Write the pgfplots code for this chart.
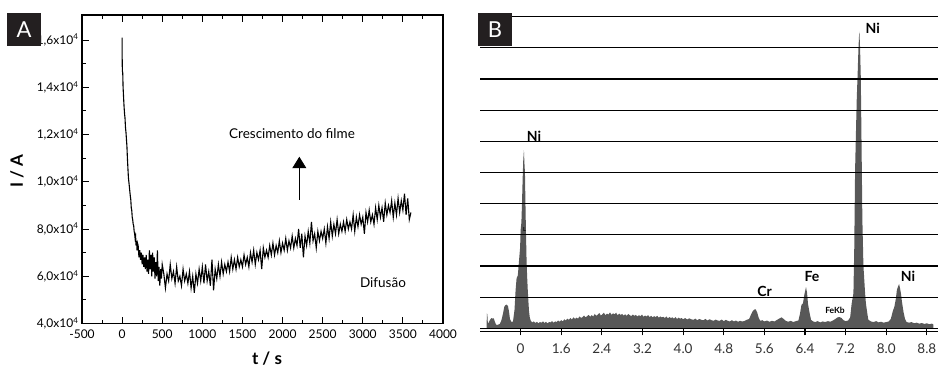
\documentclass[border=0pt]{standalone}
\usepackage{fontspec}
\setmainfont{Lato}
\usepackage{pgfplots}
\pgfplotsset{compat=1.18}
\usetikzlibrary{arrows.meta}
\definecolor{spec}{RGB}{88,88,88}
\definecolor{boxc}{RGB}{35,31,32}
\definecolor{tickgray}{RGB}{50,50,50}
\begin{document}
\begin{tikzpicture}
\useasboundingbox (0pt,0pt) rectangle (939pt,367pt);
% ---------------- Panel A ----------------
\begin{axis}[
  at={(82pt,43.5pt)}, anchor=south west, scale only axis,
  width=361pt, height=308.5pt,
  xmin=-500, xmax=4000, ymin=4, ymax=17.06,
  xtick={-500,0,500,1000,1500,2000,2500,3000,3500,4000},
  minor x tick num=1,
  ytick={4,6,8,10,12,14,16}, minor y tick num=1,
  yticklabels={{4,0x10\textsuperscript{4}},{6,0x10\textsuperscript{4}},{8,0x10\textsuperscript{4}},{1,0x10\textsuperscript{4}},{1,2x10\textsuperscript{4}},{1,4x10\textsuperscript{4}},{1,6x10\textsuperscript{4}}},
  ytick pos=left,
  tick align=inside,
  major tick length=7pt, minor tick length=4pt,
  axis line style={line width=1.6pt},
  tick style={line width=1pt, black},
  /pgf/number format/assume math mode=true,
  /pgf/number format/1000 sep={},
  ticklabel style={font=\fontsize{12}{14}\selectfont},
  xticklabel style={yshift=-3pt},
  clip=false,
]
\addplot[black, line width=1.1pt] coordinates {
(0,16.1) (1,15.2) (3,14.7) (8,14.6) (12,14.0) (18,13.6) (24,13.2) (30,12.9) (36,12.7) (42,12.3) (48,12.1) (54,11.8) (60,11.5) (66,11.0) (72,10.6) (78,10.2) (84,10.0) (90,9.8) (96,9.6) (102,9.4) (108,9.25) (114,8.9) (120,8.8) (126,8.5) (132,8.4) (138,8.2) (144,8.15) (150,7.9) (156,7.8) (162,7.6) (168,7.7) (174,7.3) (180,7.5) (186,7.1) (192,7.4)
(200,7.3) (210,6.8) (220,7.1) (230,6.7) (240,7.0) (250,6.5) (260,6.9) (270,6.4) (280,6.8) (290,6.3)
(300,6.9) (310,6.2) (320,6.7) (330,6.1) (340,7.1) (350,6.3) (360,6.9) (370,6.0) (380,7.0) (390,6.2)
(400,6.8) (410,5.9) (420,6.6) (430,6.0) (440,7.1) (450,5.8) (460,6.4) (470,5.6) (480,6.3) (490,5.9)
(500,6.5) (520,6.1) (540,5.5) (560,6.1) (580,5.8) (600,6.5) (620,5.9) (640,6.2) (660,5.7) (680,6.4)
(700,5.8) (720,6.0) (740,5.6) (760,6.3) (780,5.8) (800,6.1) (820,5.7) (840,6.2) (860,5.5) (880,6.0)
(900,5.3) (920,6.1) (940,5.7) (960,6.3) (980,5.8) (1000,6.4) (1020,5.7) (1040,6.5) (1060,5.8) (1080,6.2)
(1100,5.6) (1120,6.7) (1140,5.4) (1160,6.3) (1180,5.9) (1200,6.5) (1220,6.0) (1240,6.6) (1260,6.1) (1280,6.5)
(1300,6.2) (1320,6.6) (1340,6.2) (1360,6.8) (1380,6.3) (1400,6.7) (1420,6.3) (1440,6.8) (1460,6.4) (1480,6.7)
(1500,6.4) (1520,6.9) (1540,6.5) (1560,6.8) (1580,6.4) (1600,7.0) (1620,6.6) (1640,7.1) (1660,6.5) (1680,7.0)
(1700,6.7) (1720,7.1) (1740,6.3) (1760,7.2) (1780,6.8) (1800,7.1) (1820,6.8) (1840,7.3) (1860,6.9) (1880,7.4)
(1900,6.9) (1920,7.3) (1940,7.0) (1960,7.5) (1980,7.0) (2000,7.4) (2020,7.1) (2040,7.6) (2060,7.1) (2080,7.5)
(2100,7.2) (2120,7.7) (2140,7.2) (2160,7.6) (2180,7.3) (2200,8.0) (2220,7.2) (2240,7.8) (2260,6.8) (2280,7.7)
(2300,7.3) (2320,7.9) (2340,7.4) (2360,8.3) (2380,7.5) (2400,7.8) (2420,7.2) (2440,7.9) (2460,7.5) (2480,7.9)
(2500,7.6) (2520,8.0) (2540,7.4) (2560,8.1) (2580,7.6) (2600,8.3) (2620,7.7) (2640,8.2) (2660,7.8) (2680,8.4)
(2700,7.8) (2720,8.2) (2740,7.9) (2760,8.3) (2780,7.9) (2800,8.4) (2820,8.0) (2840,8.3) (2860,8.0) (2880,8.6)
(2900,7.9) (2920,8.5) (2940,8.1) (2960,8.6) (2980,8.2) (3000,8.5) (3020,7.8) (3040,8.7) (3060,8.3) (3080,8.8)
(3100,8.3) (3120,8.6) (3140,8.2) (3160,8.9) (3180,8.4) (3200,9.0) (3220,8.5) (3240,8.9) (3260,8.3) (3280,9.1)
(3300,8.6) (3320,9.0) (3340,8.7) (3360,9.2) (3380,8.5) (3400,9.1) (3420,8.6) (3440,9.3) (3460,8.7) (3480,9.2)
(3500,8.8) (3520,9.5) (3540,8.6) (3560,9.3) (3580,8.4) (3600,8.7)
};
\node[font=\fontsize{13.5}{15}\selectfont] at (axis cs:2118,12.05) {Crescimento do filme};
\draw[line width=0.8pt, -{Triangle[width=14pt,length=11.5pt]}] (axis cs:2209,9.23) -- (axis cs:2209,11.06);
\node[font=\fontsize{13.5}{15}\selectfont] at (axis cs:3252,5.75) {Difusão};
\end{axis}
\node[rotate=90, font=\bfseries\fontsize{17}{19}\selectfont] at (17pt,196pt) {I / A};
\node[font=\bfseries\fontsize{17}{19}\selectfont] at (267pt,8pt) {t / s};
\fill[boxc] (7pt,321pt) rectangle (41pt,354pt);
\node[white, font=\fontsize{22}{22}\selectfont] at (24pt,337.5pt) {A};
% ---------------- Panel B ----------------
\begin{axis}[
  at={(480pt,38.7pt)}, anchor=south west, scale only axis,
  width=458pt, height=311.6pt,
  xmin=0, xmax=9.02, ymin=0, ymax=10,
  axis x line*=bottom, axis y line*=left,
  x axis line style={line width=1.4pt},
  y axis line style={draw=none},
  xtick={0.8,1.6,2.4,3.2,4.0,4.8,5.6,6.4,7.2,8.0,8.8},
  xticklabels={0,1.6,2.4,3.2,4.0,4.8,5.6,6.4,7.2,8.0,8.8},
  tick align=outside, major tick length=7pt,
  xtick style={line width=1.1pt, black},
  ytick={1,2,3,4,5,6,7,8,9,10}, yticklabels={},
  ytick style={draw=none},
  ymajorgrids, grid style={black, line width=1.1pt},
  axis on top,
  xticklabel style={font=\fontsize{13.5}{15}\selectfont, text=tickgray, yshift=-5pt},
  clip=false,
]
\addplot[fill=spec, draw=none] coordinates {
(0.13,0) (0.135,0.48) (0.145,0.45) (0.155,0.15) (0.17,0.18) (0.19,0.25) (0.21,0.3) (0.23,0.33) (0.25,0.31) (0.27,0.32) (0.29,0.22) (0.31,0.14) (0.33,0.1) (0.36,0.12) (0.39,0.14) (0.42,0.25) (0.45,0.45) (0.48,0.7) (0.50,0.74) (0.52,0.76) (0.55,0.72) (0.57,0.55) (0.59,0.3) (0.62,0.2) (0.65,0.22) (0.68,0.6)
(0.70,1.2) (0.72,1.6) (0.745,1.7) (0.76,2.0) (0.775,2.3) (0.79,2.6) (0.80,3.15) (0.815,3.4) (0.825,3.9) (0.84,4.8) (0.852,5.4) (0.865,5.72) (0.875,5.3) (0.885,5.0) (0.895,4.0) (0.905,3.1) (0.918,2.1) (0.93,1.6) (0.94,1.25) (0.952,0.9) (0.965,0.55) (0.98,0.35)
(1.00,0.24) (1.03,0.19) (1.06,0.22) (1.09,0.17) (1.12,0.21) (1.15,0.16) (1.18,0.2) (1.21,0.18) (1.24,0.22) (1.27,0.17) (1.30,0.21) (1.33,0.16) (1.36,0.2) (1.39,0.19) (1.42,0.23) (1.45,0.18) (1.48,0.22) (1.51,0.2) (1.54,0.25) (1.57,0.21)
(1.60,0.26) (1.63,0.22) (1.66,0.29) (1.69,0.25) (1.72,0.31) (1.75,0.27) (1.78,0.33) (1.81,0.28) (1.84,0.35) (1.87,0.3) (1.90,0.34) (1.93,0.31) (1.96,0.38) (1.99,0.33) (2.02,0.36) (2.05,0.41) (2.08,0.35) (2.11,0.39) (2.14,0.43) (2.17,0.37)
(2.20,0.42) (2.23,0.38) (2.26,0.46) (2.29,0.4) (2.32,0.44) (2.35,0.49) (2.38,0.41) (2.41,0.45) (2.44,0.5) (2.47,0.42) (2.50,0.47) (2.53,0.44) (2.56,0.51) (2.59,0.43) (2.62,0.48) (2.65,0.45) (2.68,0.5) (2.71,0.42) (2.74,0.47) (2.77,0.43)
(2.80,0.46) (2.83,0.41) (2.86,0.45) (2.89,0.4) (2.92,0.46) (2.95,0.42) (2.98,0.39) (3.01,0.44) (3.04,0.4) (3.07,0.43) (3.10,0.38) (3.13,0.42) (3.16,0.39) (3.19,0.44) (3.22,0.37) (3.25,0.41) (3.28,0.38) (3.31,0.42) (3.34,0.36) (3.37,0.4)
(3.40,0.35) (3.43,0.39) (3.46,0.36) (3.49,0.4) (3.52,0.34) (3.55,0.38) (3.58,0.35) (3.61,0.37) (3.64,0.33) (3.67,0.38) (3.70,0.32) (3.73,0.36) (3.76,0.33) (3.79,0.35) (3.82,0.31) (3.85,0.36) (3.88,0.3) (3.91,0.34) (3.94,0.31) (3.97,0.33)
(4.00,0.29) (4.04,0.33) (4.08,0.28) (4.12,0.32) (4.16,0.29) (4.20,0.27) (4.24,0.31) (4.28,0.26) (4.32,0.3) (4.36,0.27) (4.40,0.26) (4.44,0.3) (4.48,0.25) (4.52,0.29) (4.56,0.26) (4.60,0.24) (4.64,0.28) (4.68,0.25) (4.72,0.24) (4.76,0.28)
(4.80,0.23) (4.84,0.27) (4.88,0.24) (4.92,0.22) (4.96,0.26) (5.00,0.22) (5.04,0.25) (5.08,0.21) (5.12,0.24) (5.16,0.22) (5.20,0.23) (5.25,0.27) (5.30,0.3) (5.34,0.45) (5.37,0.55) (5.40,0.6) (5.43,0.61) (5.46,0.5) (5.49,0.33) (5.52,0.24) (5.56,0.26) (5.60,0.22) (5.65,0.25) (5.70,0.21) (5.75,0.24) (5.80,0.22) (5.85,0.27) (5.90,0.32) (5.94,0.35) (5.98,0.3)
(6.02,0.24) (6.07,0.21) (6.12,0.24) (6.17,0.2) (6.22,0.23) (6.27,0.25) (6.30,0.45) (6.33,0.75) (6.36,0.8) (6.39,1.1) (6.42,1.32) (6.44,1.15) (6.46,0.78) (6.49,0.5) (6.52,0.27) (6.56,0.22) (6.60,0.2) (6.65,0.23) (6.70,0.19) (6.75,0.22) (6.80,0.2) (6.85,0.23) (6.90,0.21) (6.95,0.25)
(7.00,0.3) (7.04,0.35) (7.08,0.36) (7.12,0.33) (7.16,0.26) (7.20,0.23) (7.25,0.25) (7.29,0.35) (7.32,0.8) (7.354,1.12) (7.37,2.5) (7.387,5.08) (7.407,6.5) (7.42,7.38) (7.44,8.3) (7.452,8.93) (7.465,9.4) (7.472,9.52) (7.485,9.0) (7.499,8.07) (7.51,6.5) (7.519,5.19) (7.53,3.5) (7.551,2.0) (7.57,1.5) (7.584,1.12) (7.60,0.8) (7.618,0.59) (7.635,0.4) (7.649,0.27)
(7.70,0.22) (7.75,0.2) (7.80,0.23) (7.85,0.19) (7.90,0.21) (7.95,0.18) (8.00,0.2) (8.05,0.22) (8.09,0.3) (8.13,0.55) (8.16,0.69) (8.19,0.95) (8.21,1.23) (8.235,1.35) (8.254,1.42) (8.27,1.3) (8.29,1.12) (8.31,0.85) (8.34,0.53) (8.37,0.3) (8.40,0.2)
(8.45,0.18) (8.50,0.2) (8.55,0.16) (8.60,0.18) (8.65,0.15) (8.70,0.17) (8.75,0.14) (8.80,0.16) (8.85,0.13) (8.90,0.15) (8.93,0.12) (8.93,0)
} \closedcycle;
\draw[line width=0.7pt] ([yshift=-3.3pt]axis cs:0,0) -- ([yshift=-3.3pt]axis cs:9.02,0);
\end{axis}
\fill[boxc] (478pt,321pt) rectangle (512pt,354pt);
\node[white, font=\fontsize{22}{22}\selectfont] at (495pt,337.5pt) {B};
\node[font=\bfseries\fontsize{14}{15}\selectfont] at (534pt,231pt) {Ni};
\node[font=\bfseries\fontsize{14}{15}\selectfont] at (872.7pt,338.7pt) {Ni};
\node[font=\bfseries\fontsize{14}{15}\selectfont] at (812pt,91pt) {Fe};
\node[font=\bfseries\fontsize{14}{15}\selectfont] at (764.7pt,76pt) {Cr};
\node[font=\bfseries\fontsize{8.5}{9}\selectfont] at (835pt,56.3pt) {FeKb};
\node[font=\bfseries\fontsize{14}{15}\selectfont] at (908pt,91pt) {Ni};
\node[font=\bfseries\fontsize{5.5}{6}\selectfont, inner sep=0pt] at (524.5pt,137pt) {L};
\end{tikzpicture}
\end{document}
